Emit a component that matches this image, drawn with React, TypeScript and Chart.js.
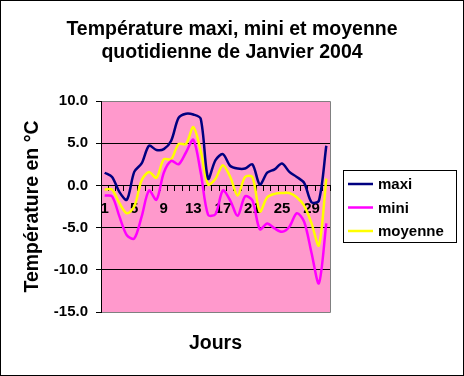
import React, { useEffect, useRef } from "react";
import { Chart, registerables } from "chart.js";

Chart.register(...registerables);

const days: string[] = Array.from({ length: 31 }, (_, i) => String(i + 1));
const maxi: number[] = [1.5, 1.0, -0.8, -1.7, 1.6, 2.6, 4.7, 4.2, 4.3, 5.3, 8.0, 8.5, 8.4, 7.9, 0.8, 3.0, 3.7, 2.3, 2.0, 2.0, 2.5, 0.1, 1.5, 1.9, 2.6, 1.6, 1.0, 0.3, -2.0, -1.8, 4.7];
const mini: number[] = [-1.2, -1.3, -3.7, -5.9, -6.3, -3.7, -0.6, -1.7, 1.5, 2.9, 2.5, 3.9, 5.4, 1.5, -3.5, -3.4, -0.6, -1.8, -3.6, -1.3, -1.8, -5.2, -4.5, -5.1, -5.5, -4.9, -3.3, -4.3, -8.0, -11.6, -4.5];
const moyenne: number[] = [-0.5, -0.5, -2.1, -3.3, -2.5, 0.6, 1.6, 0.9, 3.1, 3.1, 4.9, 4.9, 6.9, 4.1, 0.1, 0.8, 2.4, 1.0, -1.2, 1.0, 1.0, -3.1, -1.4, -1.0, -0.9, -0.9, -1.4, -2.4, -4.5, -7.1, 0.8];
const seriesNames: string[] = ["maxi", "mini", "moyenne"];
const seriesColors: string[] = ["#000080", "#FF00FF", "#FFFF00"];
const titleLines: string[] = ["Température maxi, mini et moyenne", "quotidienne de Janvier 2004"];
const yTitle = "Température en °C";
const xTitle = "Jours";

const FONT = "'Liberation Sans', Arial, sans-serif";

const decorPlugin = {
  id: "decor",
  beforeDraw(chart: any) {
    const { ctx, chartArea: a, width, height } = chart;
    ctx.save();
    ctx.fillStyle = "#FFFFFF";
    ctx.fillRect(0, 0, width, height);
    ctx.strokeStyle = "#000000";
    ctx.lineWidth = 1;
    ctx.strokeRect(0.5, 0.5, width - 1, height - 1);
    ctx.fillStyle = "#FF99CC";
    ctx.fillRect(a.left, a.top, a.right - a.left, a.bottom - a.top);
    ctx.strokeStyle = "#808080";
    ctx.beginPath();
    ctx.moveTo(a.left, a.top + 0.5);
    ctx.lineTo(a.right + 0.5, a.top + 0.5);
    ctx.lineTo(a.right + 0.5, a.bottom + 0.5);
    ctx.lineTo(a.left, a.bottom + 0.5);
    ctx.stroke();
    ctx.restore();
  },
  afterDraw(chart: any) {
    const { ctx, chartArea: a } = chart;
    ctx.save();
    ctx.fillStyle = "#000000";
    ctx.textAlign = "center";
    ctx.textBaseline = "middle";
    ctx.font = `bold 19.5px ${FONT}`;
    ctx.fillText(titleLines[0], 232, 30);
    ctx.fillText(titleLines[1], 232, 53);
    ctx.fillText(xTitle, (a.left + a.right) / 2, 344);
    ctx.save();
    ctx.translate(33, (a.top + a.bottom) / 2);
    ctx.rotate(-Math.PI / 2);
    ctx.fillText(yTitle, 0, 0);
    ctx.restore();
    // legend
    const bx = 343.5, by = 170.5, bw = 113, bh = 72;
    ctx.fillStyle = "#FFFFFF";
    ctx.fillRect(bx, by, bw, bh);
    ctx.strokeStyle = "#000000";
    ctx.lineWidth = 1;
    ctx.strokeRect(bx, by, bw, bh);
    ctx.textAlign = "left";
    ctx.font = `bold 15px ${FONT}`;
    chart.data.datasets.forEach((ds: any, i: number) => {
      const y = 184 + i * 23.5;
      ctx.strokeStyle = ds.borderColor;
      ctx.lineWidth = 2.5;
      ctx.beginPath();
      ctx.moveTo(348, y);
      ctx.lineTo(373, y);
      ctx.stroke();
      ctx.fillStyle = "#000000";
      ctx.fillText(ds.label, 378, y + 1);
    });
    ctx.restore();
  },
};

export default function App() {
  const ref = useRef<HTMLCanvasElement | null>(null);
  useEffect(() => {
    if (!ref.current) return;
    const values = [maxi, mini, moyenne];
    const chart = new Chart(ref.current, {
      type: "line",
      data: {
        labels: days,
        datasets: seriesNames.map((name, i) => ({
          label: name,
          data: values[i],
          borderColor: seriesColors[i],
          backgroundColor: seriesColors[i],
          borderWidth: 2.5,
          pointRadius: 0,
          tension: 0.3,
          fill: false,
        })),
      },
      options: {
        responsive: false,
        animation: false,
        layout: { padding: { left: 0, top: 101, right: 134, bottom: 64 } },
        plugins: { legend: { display: false }, title: { display: false }, tooltip: { enabled: false } },
        scales: {
          x: {
            type: "category",
            position: { y: 0 } as any,
            offset: true,
            z: 1,
            grid: { drawOnChartArea: false, drawTicks: true, tickLength: 5, offset: true, color: "#000000", tickColor: "#000000" },
            border: { display: true, color: "#000000", width: 1 },
            ticks: {
              autoSkip: false,
              maxRotation: 0,
              padding: 9,
              color: "#000000",
              font: { family: FONT, size: 15, weight: "bold" },
              callback: (_v: any, i: number) => (i % 4 === 0 ? days[i] : ""),
            },
          },
          y: {
            min: -15,
            max: 10,
            afterFit: (s: any) => { s.width = 101; },
            grid: {
              color: (c: any) => (c.tick && (c.tick.value === 10 || c.tick.value === -15) ? "#808080" : "#000000"),
              tickColor: "#000000",
              tickLength: 5,
              lineWidth: 1,
            },
            border: { display: true, color: "#000000", width: 1 },
            ticks: {
              stepSize: 5,
              padding: 8,
              color: "#000000",
              font: { family: FONT, size: 15, weight: "bold" },
              callback: (v: any) => Number(v).toFixed(1),
            },
          },
        },
      },
      plugins: [decorPlugin],
    });
    return () => chart.destroy();
  }, []);
  return (
    <div style={{ position: "absolute", left: 0, top: 0, width: 464, height: 376 }}>
      <canvas ref={ref} width={464} height={376} style={{ display: "block" }} />
    </div>
  );
}
